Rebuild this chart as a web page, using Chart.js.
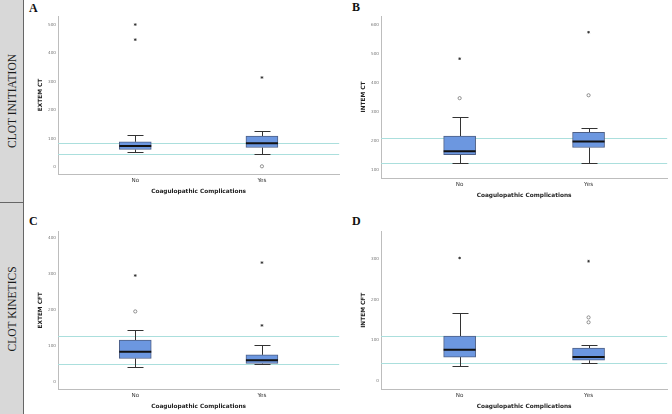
<!DOCTYPE html>
<html>
<head>
<meta charset="utf-8">
<script src="https://cdn.jsdelivr.net/npm/chart.js@4.4.0/dist/chart.umd.min.js"></script>
<style>
  body { margin: 0; width: 672px; height: 414px; background: #fff; position: relative; overflow: hidden; }
  .side { position: absolute; left: 0; width: 23px; background: #d8d8d8; border-right: 1px solid #666; }
  .side span { position: absolute; left: 50%; top: 50%; transform: translate(-50%, -50%) rotate(-90deg);
               white-space: nowrap; font: 11.5px "Liberation Serif", serif; color: #1a1a1a; }
  .tag { position: absolute; font: bold 12px "Liberation Serif", serif; color: #111; }
  canvas { position: absolute; }
</style>
</head>
<body>
<div class="side" style="top:0;height:202px;border-bottom:1px solid #666"><span>CLOT INITIATION</span></div>
<div class="side" style="top:203px;height:211px"><span>CLOT KINETICS</span></div>
<div class="tag" style="left:29px;top:1px">A</div>
<div class="tag" style="left:352px;top:0px">B</div>
<div class="tag" style="left:29px;top:214px">C</div>
<div class="tag" style="left:352px;top:214px">D</div>

<canvas id="chartA" width="308" height="198" style="left:36px;top:0px"></canvas>
<canvas id="chartB" width="313" height="202" style="left:359px;top:0px"></canvas>
<canvas id="chartC" width="308" height="211" style="left:36px;top:202px"></canvas>
<canvas id="chartD" width="313" height="211" style="left:359px;top:202px"></canvas>

<script>
// groups on the x axis
const groups = ['No', 'Yes'];
const xTitle = 'Coagulopathic Complications';

// box stats per group: [lower whisker, Q1, median, Q3, upper whisker]
// A - EXTEM CT
const extemCtNo = [51, 61, 73, 88, 112];
const extemCtYes = [47, 68, 83, 108, 127];
const extemCtExtremes = [[447, 500], [314]];
const extemCtOutliers = [[], [2]];
const extemCtRef = [44, 83];
const extemCtTicks = [0, 100, 200, 300, 400, 500];

// B - INTEM CT
const intemCtNo = [124, 152, 164, 216, 281];
const intemCtYes = [124, 177, 198, 229, 243];
const intemCtExtremes = [[483], [574]];
const intemCtOutliers = [[347], [357]];
const intemCtRef = [123, 209];
const intemCtTicks = [100, 200, 300, 400, 500, 600];

// C - EXTEM CFT
const extemCftNo = [42, 65, 84, 116, 145];
const extemCftYes = [49, 51, 60, 75, 102];
const extemCftExtremes = [[296], [157, 332]];
const extemCftOutliers = [[196], []];
const extemCftRef = [50, 128];
const extemCftTicks = [0, 100, 200, 300, 400];

// D - INTEM CFT
const intemCftNo = [35, 58, 76, 110, 166];
const intemCftYes = [44, 50, 58, 80, 89];
const intemCftExtremes = [[303], [295]];
const intemCftOutliers = [[], [144, 156]];
const intemCftRef = [44, 110];
const intemCftTicks = [0, 100, 200, 300];

const boxParts = {
  id: 'boxParts',
  beforeDatasetsDraw(chart, args, opts) {
    const { ctx, chartArea, scales: { x, y } } = chart;
    ctx.save();
    // reference range lines
    ctx.strokeStyle = '#abdfdd';
    ctx.lineWidth = 1;
    opts.refs.forEach(v => {
      const py = Math.round(y.getPixelForValue(v)) + 0.5;
      ctx.beginPath();
      ctx.moveTo(chartArea.left, py);
      ctx.lineTo(chartArea.right, py);
      ctx.stroke();
    });
    // whiskers
    ctx.strokeStyle = '#333';
    opts.stats.forEach((s, i) => {
      const px = Math.round(x.getPixelForValue(i)) + 0.5;
      const half = opts.capWidth / 2;
      const lo = Math.round(y.getPixelForValue(s[0])) + 0.5;
      const q1 = y.getPixelForValue(s[1]);
      const q3 = y.getPixelForValue(s[3]);
      const hi = Math.round(y.getPixelForValue(s[4])) + 0.5;
      ctx.beginPath();
      ctx.moveTo(px, lo); ctx.lineTo(px, q1);
      ctx.moveTo(px, q3); ctx.lineTo(px, hi);
      ctx.moveTo(px - half, lo); ctx.lineTo(px + half, lo);
      ctx.moveTo(px - half, hi); ctx.lineTo(px + half, hi);
      ctx.stroke();
    });
    ctx.restore();
  },
  afterDatasetsDraw(chart, args, opts) {
    const { ctx, scales: { x, y } } = chart;
    ctx.save();
    ctx.strokeStyle = '#111';
    ctx.lineWidth = 2;
    opts.stats.forEach((s, i) => {
      const px = x.getPixelForValue(i);
      const py = y.getPixelForValue(s[2]);
      ctx.beginPath();
      ctx.moveTo(px - opts.boxWidth / 2, py);
      ctx.lineTo(px + opts.boxWidth / 2, py);
      ctx.stroke();
    });
    ctx.restore();
  }
};

function points(lists) {
  const out = [];
  lists.forEach((vals, i) => vals.forEach(v => out.push({ x: i, y: v })));
  return out;
}

function makePanel(id, yTitle, yMin, yMax, ticks, stats, extremes, outliers, refs, padTop) {
  const boxWidth = 32;
  new Chart(document.getElementById(id), {
    type: 'bar',
    data: {
      datasets: [{
        data: stats.map((s, i) => ({ x: i, y: [s[1], s[3]] })),
        backgroundColor: '#6c97e0',
        borderColor: '#4d5f86',
        borderWidth: 1,
        borderSkipped: false,
        barThickness: boxWidth
      }, {
        type: 'scatter',
        data: points(extremes),
        pointStyle: 'star',
        radius: 1.3,
        borderColor: '#333',
        borderWidth: 0.8
      }, {
        type: 'scatter',
        data: points(outliers),
        pointStyle: 'circle',
        radius: 1.6,
        backgroundColor: 'rgba(0,0,0,0)',
        borderColor: '#666',
        borderWidth: 0.7
      }]
    },
    options: {
      responsive: false,
      animation: false,
      layout: { padding: { top: padTop, left: 0, right: 0, bottom: 0 } },
      plugins: {
        legend: { display: false },
        tooltip: { enabled: false },
        boxParts: { stats: stats, refs: refs, boxWidth: boxWidth, capWidth: 16 }
      },
      scales: {
        x: {
          type: 'linear',
          min: -0.61, max: 1.61,
          offset: false,
          grid: { display: false, drawTicks: false, tickLength: 0 },
          border: { color: '#bdbdbd', width: 1 },
          afterBuildTicks: s => { s.ticks = groups.map((g, i) => ({ value: i })); },
          afterFit: s => { s.height = 24; },
          ticks: {
            autoSkip: false, maxRotation: 0,
            padding: 3,
            color: '#333',
            font: { family: 'DejaVu Sans', size: 5.6 },
            callback: v => groups[v]
          },
          title: {
            display: true, text: xTitle, color: '#222',
            padding: { top: 0, bottom: 3.4 },
            font: { family: 'DejaVu Sans', size: 5.8, weight: 'bold' }
          }
        },
        y: {
          min: yMin, max: yMax,
          grid: { display: false, drawTicks: false, tickLength: 0 },
          border: { color: '#bdbdbd', width: 1 },
          afterBuildTicks: s => { s.ticks = ticks.map(v => ({ value: v })); },
          afterFit: s => { s.width = 22; },
          ticks: {
            padding: 2,
            color: '#777',
            font: { family: 'DejaVu Sans', size: 4.2 }
          },
          title: {
            display: true, text: yTitle, color: '#222',
            padding: { top: 1.4, bottom: 0 },
            font: { family: 'DejaVu Sans', size: 5.8, weight: 'bold' }
          }
        }
      }
    },
    plugins: [boxParts]
  });
}

makePanel('chartA', 'EXTEM CT', -25, 530, extemCtTicks, [extemCtNo, extemCtYes],
  extemCtExtremes, extemCtOutliers, extemCtRef, 16);
makePanel('chartB', 'INTEM CT', 72, 630, intemCtTicks, [intemCtNo, intemCtYes],
  intemCtExtremes, intemCtOutliers, intemCtRef, 16);
makePanel('chartC', 'EXTEM CFT', -20, 418, extemCftTicks, [extemCftNo, extemCftYes],
  extemCftExtremes, extemCftOutliers, extemCftRef, 29.7);
makePanel('chartD', 'INTEM CFT', -21, 368, intemCftTicks, [intemCftNo, intemCftYes],
  intemCftExtremes, intemCftOutliers, intemCftRef, 29.7);
</script>
</body>
</html>
